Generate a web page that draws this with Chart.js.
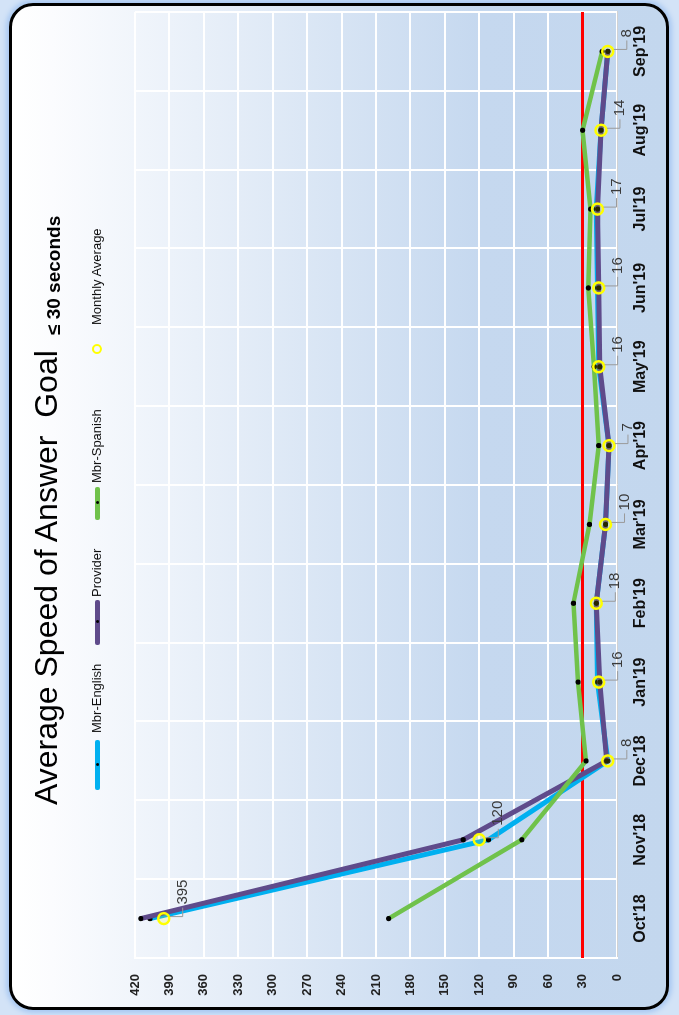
<!DOCTYPE html>
<html>
<head>
<meta charset="utf-8">
<script src="https://cdn.jsdelivr.net/npm/chart.js@4.4.1/dist/chart.umd.min.js"></script>
<style>
  html, body { margin: 0; padding: 0; width: 679px; height: 1015px; overflow: hidden; background: #fff; }
  /* chart is laid out landscape, then turned a quarter to the left */
  #wrap {
    position: absolute; left: 0; top: 0; width: 1015px; height: 679px;
    transform-origin: 0 0; transform: translate(0, 1015px) rotate(-90deg);
    font-family: "Liberation Sans", Arial, sans-serif; background: #d3e3f7;
  }
  #frame {
    position: absolute; left: 5px; top: 9px; right: 3px; bottom: 10px; box-sizing: border-box;
    border: 3px solid #000; border-radius: 24px;
    background: linear-gradient(to bottom, #ffffff 0px, #fbfcfe 40px, #c5d8ef 470px, #c3d7ee 100%);
    box-shadow: 0 0 5px 3px #a8c8f2;
  }
  #chart { position: absolute; left: 0; top: 0; }
  .title { position: absolute; white-space: pre; color: #000; }
  #t1 { left: 210px; top: 30px; font-size: 32px; line-height: 32px; }
  #t2 { left: 680px; top: 44px; font-size: 19px; line-height: 19px; font-weight: bold; }
  .lg { position: absolute; }
  .lg-line { height: 5px; top: 95px; border-radius: 2px; }
  .lg-line::after { content: ""; position: absolute; left: 50%; top: 1px; width: 3px; height: 3px; margin-left: -1px; background: #000; border-radius: 50%; }
  .lg-text { top: 89px; font-size: 13px; line-height: 16px; color: #111; }
  .lg-ring { top: 92px; width: 6px; height: 6px; border: 2.5px solid #ffff00; border-radius: 50%; }
</style>
</head>
<body>
<div id="wrap">
  <div id="frame"></div>
  <canvas id="chart" width="1015" height="679"></canvas>
  <div class="title" id="t1">Average Speed of Answer  Goal</div>
  <div class="title" id="t2">≤ 30 seconds</div>
  <div class="lg lg-line" style="left:225px;width:50px;background:#00b0f0"></div>
  <div class="lg lg-text" style="left:282px">Mbr-English</div>
  <div class="lg lg-line" style="left:370px;width:45px;background:#5f4b8b"></div>
  <div class="lg lg-text" style="left:418px">Provider</div>
  <div class="lg lg-line" style="left:495px;width:33px;background:#70c24b"></div>
  <div class="lg lg-text" style="left:532px">Mbr-Spanish</div>
  <div class="lg lg-ring" style="left:661px"></div>
  <div class="lg lg-text" style="left:690px">Monthly Average</div>
</div>
<script>
// Average speed of answer (seconds) per month
const months = ["Oct'18", "Nov'18", "Dec'18", "Jan'19", "Feb'19", "Mar'19",
                "Apr'19", "May'19", "Jun'19", "Jul'19", "Aug'19", "Sep'19"];
const mbrEnglish = [407, 112, 8, 17, 18, 10, 7, 16, 17, 18, 14, 8];
const provider   = [415, 134, 9, 15, 18, 10, 7, 15, 16, 17, 14, 8];
const mbrSpanish = [199, 83, 27, 34, 38, 24, 16, 20, 25, 23, 30, 13];
const monthlyAvg = [395, 120, 8, 16, 18, 10, 7, 16, 16, 17, 14, 8];
const goalSeconds = 30;
const axisMax = 420;
const axisStep = 30;

// red goal line across the plot, under the series
const goalLine = {
  id: 'goalLine',
  beforeDatasetsDraw(chart) {
    const { ctx, chartArea: a, scales: { y } } = chart;
    const py = y.getPixelForValue(goalSeconds);
    ctx.save();
    ctx.strokeStyle = '#ff0000';
    ctx.lineWidth = 3;
    ctx.beginPath();
    ctx.moveTo(a.left, py);
    ctx.lineTo(a.right, py);
    ctx.stroke();
    ctx.restore();
  }
};

// value labels with leader lines for the monthly average
const avgLabels = {
  id: 'avgLabels',
  afterDatasetsDraw(chart) {
    const { ctx } = chart;
    const meta = chart.getDatasetMeta(3);
    ctx.save();
    ctx.font = '15px "Liberation Sans", Arial, sans-serif';
    ctx.textBaseline = 'middle';
    ctx.textAlign = 'left';
    meta.data.forEach((pt, i) => {
      const x = pt.x, y = pt.y;
      ctx.strokeStyle = '#9a9a9a';
      ctx.lineWidth = 1;
      ctx.beginPath();
      ctx.moveTo(x + 2, y + 6);
      ctx.lineTo(x + 2, y + 19);
      ctx.lineTo(x + 11, y + 19);
      ctx.stroke();
      ctx.fillStyle = '#3a3a3a';
      ctx.fillText(String(monthlyAvg[i]), x + 14, y + 19);
    });
    ctx.restore();
  }
};

const lineSeries = (label, data, color, width, order) => ({
  label, data, order,
  borderColor: color,
  borderWidth: width,
  pointRadius: 2.6,
  pointBackgroundColor: '#000',
  pointBorderWidth: 0,
  tension: 0
});

new Chart(document.getElementById('chart'), {
  type: 'line',
  data: {
    labels: months,
    datasets: [
      lineSeries('Mbr-English', mbrEnglish, '#00b0f0', 5, 3),
      lineSeries('Provider', provider, '#5f4b8b', 5, 2),
      lineSeries('Mbr-Spanish', mbrSpanish, '#70c24b', 4.5, 1),
      {
        label: 'Monthly Average', data: monthlyAvg, order: 0,
        showLine: false,
        pointRadius: 5.5,
        pointBorderWidth: 2.5,
        pointBorderColor: '#ffff00',
        pointBackgroundColor: 'rgba(255,255,0,0.15)'
      }
    ]
  },
  options: {
    responsive: false,
    animation: false,
    devicePixelRatio: 1,
    layout: { padding: { left: 0, top: 135, right: 12, bottom: 0 } },
    plugins: { legend: { display: false }, tooltip: { enabled: false } },
    events: [],
    scales: {
      x: {
        offset: true,
        grid: { offset: true, color: '#ffffff', lineWidth: 2, drawTicks: false },
        border: { color: '#d2d2d2', width: 1 },
        ticks: {
          color: '#111', padding: 14, maxRotation: 0,
          font: { family: '"Liberation Sans", Arial, sans-serif', size: 16, weight: 'bold' }
        },
        afterFit(s) { s.height = 62; }
      },
      y: {
        min: 0, max: axisMax,
        grid: { color: '#ffffff', lineWidth: 2, drawTicks: false },
        border: { color: '#ffffff', width: 2 },
        ticks: {
          stepSize: axisStep, color: '#222', padding: 16,
          font: { family: '"Liberation Sans", Arial, sans-serif', size: 13, weight: 'bold' }
        },
        afterFit(s) { s.width = 57; }
      }
    }
  },
  plugins: [goalLine, avgLabels]
});
</script>
</body>
</html>
